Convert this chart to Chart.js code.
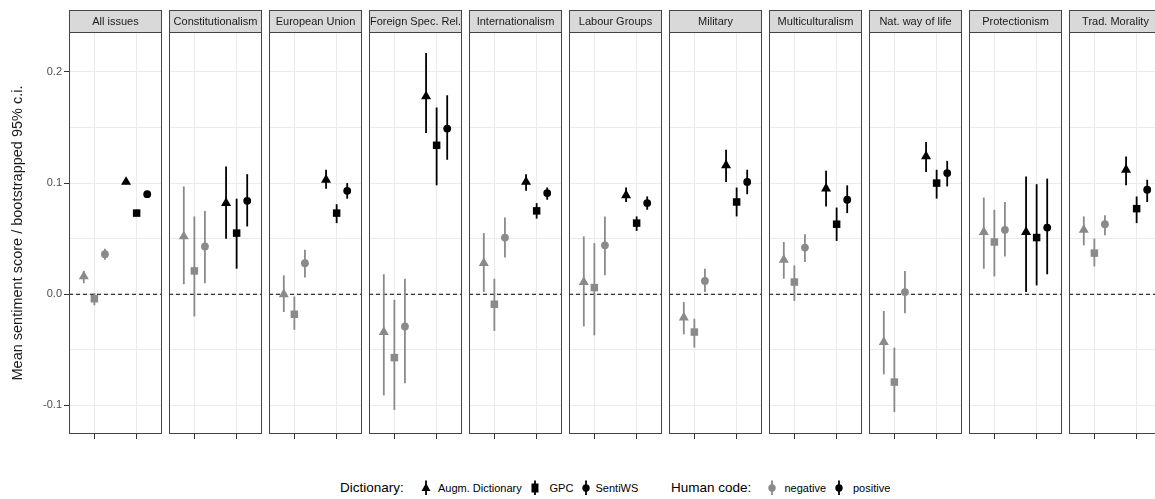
<!DOCTYPE html>
<html>
<head>
<meta charset="utf-8">
<script src="https://cdn.jsdelivr.net/npm/chart.js@4.4.1/dist/chart.umd.min.js"></script>
<style>
  html, body { margin: 0; padding: 0; background: #fff; width: 1155px; height: 499px; overflow: hidden; }
  #wrap { position: relative; width: 1155px; height: 499px; overflow: hidden; }
  #wrap canvas { position: absolute; top: 0; }
  .lg { position: absolute; white-space: nowrap; color: #000; font-family: "Liberation Sans", Arial, sans-serif; }
  .lg-title { font-size: 13.5px; line-height: 16px; top: 479.5px; }
  .lg-label { font-size: 11px; line-height: 13px; top: 481.5px; }
  .key { position: absolute; top: 480px; width: 12px; height: 16px; }
</style>
</head>
<body>
<div id="wrap">
  <span class="lg lg-title" style="left:340px">Dictionary:</span>
  <svg class="key" style="left:420.3px" viewBox="0 0 12 16"><line x1="6" y1="0.5" x2="6" y2="15" stroke="#000" stroke-width="1.8"/><polygon points="6,3 10.5,11 1.5,11" fill="#000"/></svg>
  <span class="lg lg-label" style="left:438px">Augm. Dictionary</span>
  <svg class="key" style="left:529.4px" viewBox="0 0 12 16"><line x1="6" y1="0.5" x2="6" y2="15" stroke="#000" stroke-width="1.8"/><rect x="2.5" y="3.5" width="7" height="9" fill="#000"/></svg>
  <span class="lg lg-label" style="left:549.5px">GPC</span>
  <svg class="key" style="left:580.3px" viewBox="0 0 12 16"><line x1="6" y1="0.5" x2="6" y2="15" stroke="#000" stroke-width="1.8"/><circle cx="6" cy="8" r="3.7" fill="#000"/></svg>
  <span class="lg lg-label" style="left:595.5px">SentiWS</span>
  <span class="lg lg-title" style="left:671px">Human code:</span>
  <svg class="key" style="left:765.5px" viewBox="0 0 12 16"><line x1="6" y1="0.5" x2="6" y2="15" stroke="#8a8a8a" stroke-width="1.8"/><circle cx="6" cy="8" r="3.7" fill="#8a8a8a"/></svg>
  <span class="lg lg-label" style="left:784.5px">negative</span>
  <svg class="key" style="left:833.4px" viewBox="0 0 12 16"><line x1="6" y1="0.5" x2="6" y2="15" stroke="#000" stroke-width="1.8"/><circle cx="6" cy="8" r="3.7" fill="#000"/></svg>
  <span class="lg lg-label" style="left:853px">positive</span>
</div>
<script>
// Faceted pointrange plot: sentiment by dictionary and human code, one canvas per issue.

const panelNames = ["All issues", "Constitutionalism", "European Union", "Foreign Spec. Rel.",
  "Internationalism", "Labour Groups", "Military", "Multiculturalism",
  "Nat. way of life", "Protectionism", "Trad. Morality"];
const dictionaries = ["Augm. Dictionary", "GPC", "SentiWS"];
const humanCodes   = ["negative", "positive"];

const yTicks  = [-0.1, -0.05, 0, 0.05, 0.1, 0.15, 0.2];
const yLabels = ["-0.1", "", "0.0", "", "0.1", "", "0.2"];

// human code: negative
const negAugm      = [0.016, 0.052, 0.000, -0.034, 0.028, 0.011, -0.021, 0.031, -0.043, 0.056, 0.058];
const negAugmLow   = [0.010, 0.009, -0.016, -0.091, 0.002, -0.029, -0.036, 0.014, -0.072, 0.023, 0.044];
const negAugmHigh  = [0.021, 0.097, 0.017, 0.018, 0.055, 0.052, -0.007, 0.047, -0.015, 0.087, 0.070];
const negGpc       = [-0.004, 0.021, -0.018, -0.057, -0.009, 0.006, -0.034, 0.011, -0.079, 0.047, 0.037];
const negGpcLow    = [-0.010, -0.020, -0.032, -0.104, -0.033, -0.037, -0.048, -0.006, -0.106, 0.016, 0.025];
const negGpcHigh   = [0.001, 0.070, -0.002, -0.005, 0.014, 0.046, -0.022, 0.026, -0.048, 0.076, 0.050];
const negSenti     = [0.036, 0.043, 0.028, -0.029, 0.051, 0.044, 0.012, 0.042, 0.002, 0.058, 0.063];
const negSentiLow  = [0.031, 0.010, 0.015, -0.080, 0.033, 0.017, 0.002, 0.029, -0.017, 0.034, 0.053];
const negSentiHigh = [0.041, 0.075, 0.040, 0.014, 0.069, 0.070, 0.023, 0.054, 0.021, 0.083, 0.071];

// human code: positive
const posAugm      = [0.101, 0.082, 0.103, 0.178, 0.101, 0.089, 0.116, 0.095, 0.124, 0.056, 0.112];
const posAugmLow   = [0.099, 0.050, 0.095, 0.145, 0.093, 0.083, 0.101, 0.079, 0.110, 0.002, 0.098];
const posAugmHigh  = [0.103, 0.115, 0.112, 0.217, 0.108, 0.096, 0.130, 0.111, 0.137, 0.106, 0.124];
const posGpc       = [0.073, 0.055, 0.073, 0.134, 0.075, 0.064, 0.083, 0.063, 0.100, 0.051, 0.077];
const posGpcLow    = [0.071, 0.023, 0.064, 0.098, 0.068, 0.057, 0.070, 0.048, 0.086, 0.008, 0.064];
const posGpcHigh   = [0.076, 0.086, 0.081, 0.168, 0.082, 0.070, 0.096, 0.078, 0.112, 0.099, 0.088];
const posSenti     = [0.090, 0.084, 0.093, 0.149, 0.091, 0.082, 0.101, 0.085, 0.109, 0.060, 0.094];
const posSentiLow  = [0.088, 0.061, 0.086, 0.121, 0.085, 0.076, 0.090, 0.073, 0.097, 0.018, 0.083];
const posSentiHigh = [0.093, 0.108, 0.100, 0.179, 0.096, 0.088, 0.112, 0.098, 0.120, 0.104, 0.103];

const series = [
  { code: 0, dict: 0, mean: negAugm,  low: negAugmLow,  high: negAugmHigh },
  { code: 0, dict: 1, mean: negGpc,   low: negGpcLow,   high: negGpcHigh },
  { code: 0, dict: 2, mean: negSenti, low: negSentiLow, high: negSentiHigh },
  { code: 1, dict: 0, mean: posAugm,  low: posAugmLow,  high: posAugmHigh },
  { code: 1, dict: 1, mean: posGpc,   low: posGpcLow,   high: posGpcHigh },
  { code: 1, dict: 2, mean: posSenti, low: posSentiLow, high: posSentiHigh },
];

const GREY       = "#8a8a8a";
const codeColors = [GREY, "#000000"];
const dictShapes = ["triangle", "rect", "circle"];
const dictRadius = [5.8, 5.3, 3.9];
const dodge      = [-0.25, 0, 0.25];
const FONT       = "'Liberation Sans', Arial, sans-serif";

Chart.defaults.font.family = FONT;

// grey strip on top + dark frame round the panel
const panelFrame = {
  id: "panelFrame",
  afterDraw(chart, args, opts) {
    const { ctx, chartArea: a } = chart;
    ctx.save();
    ctx.fillStyle = "#d9d9d9";
    ctx.fillRect(a.left, 10, a.right - a.left, a.top - 10);
    ctx.strokeStyle = "#444";
    ctx.lineWidth = 1;
    ctx.strokeRect(a.left + 0.5, 10.5, a.right - a.left - 1, a.top - 10);
    ctx.strokeRect(a.left + 0.5, a.top + 0.5, a.right - a.left - 1, a.bottom - a.top - 1);
    ctx.fillStyle = "#1a1a1a";
    ctx.font = "11px " + FONT;
    ctx.textAlign = "center";
    ctx.textBaseline = "middle";
    ctx.fillText(opts.text, (a.left + a.right) / 2, (10 + a.top) / 2 + 1);
    ctx.restore();
  },
};

function buildDatasets(p) {
  const points = [];
  const bars = [];
  series.forEach((s) => {
    const x = s.code + 1 + dodge[s.dict];
    points.push({
      label: humanCodes[s.code] + " / " + dictionaries[s.dict],
      data: [{ x, y: s.mean[p] }],
      pointStyle: dictShapes[s.dict],
      pointRadius: dictRadius[s.dict],
      backgroundColor: codeColors[s.code],
      pointBorderWidth: 0,
      borderWidth: 0,
    });
    bars.push({
      label: "ci",
      data: [{ x, y: s.low[p] }, { x, y: s.high[p] }],
      showLine: true,
      borderColor: codeColors[s.code],
      borderWidth: 1.8,
      pointRadius: 0,
    });
  });
  // dashed zero reference line, drawn first (last dataset)
  const zero = {
    label: "zero",
    data: [{ x: 0.4, y: 0 }, { x: 2.6, y: 0 }],
    showLine: true,
    borderColor: "#000",
    borderWidth: 1,
    borderDash: [4, 3],
    pointRadius: 0,
  };
  return [...points, ...bars, zero];
}

function buildConfig(p) {
  const first = p === 0;
  return {
    type: "scatter",
    data: { datasets: buildDatasets(p) },
    plugins: [panelFrame],
    options: {
      responsive: false,
      animation: false,
      events: [],
      devicePixelRatio: 1,
      layout: { autoPadding: false, padding: { left: first ? 0 : 1, right: 1, top: 32, bottom: 0 } },
      plugins: {
        legend: { display: false },
        tooltip: { enabled: false },
        panelFrame: { text: panelNames[p] },
      },
      scales: {
        x: {
          type: "linear",
          min: 0.4,
          max: 2.6,
          afterBuildTicks: (s) => { s.ticks = [{ value: 1 }, { value: 2 }]; },
          afterFit: (s) => { s.height = 6; s.paddingLeft = 0; s.paddingRight = 0; },
          ticks: { display: false },
          grid: { color: "#ebebeb", lineWidth: 1, drawTicks: true, tickLength: 5, tickColor: "#333" },
          border: { display: false },
        },
        y: {
          type: "linear",
          min: -0.1257,
          max: 0.2359,
          afterBuildTicks: (s) => { s.ticks = yTicks.map((v) => ({ value: v })); },
          afterFit: (s) => { s.width = first ? 69 : 0; s.paddingTop = 0; s.paddingBottom = 0; },
          ticks: {
            display: first,
            autoSkip: false,
            padding: 2,
            color: "#4d4d4d",
            font: { size: 11 },
            callback: (v, i) => yLabels[i],
          },
          grid: {
            color: "#ebebeb",
            lineWidth: 1,
            drawTicks: first,
            tickLength: 5,
            tickColor: (ctx) => (yLabels[ctx.index] ? "#333" : "rgba(0,0,0,0)"),
          },
          border: { display: false },
          title: {
            display: first,
            text: "Mean sentiment score / bootstrapped 95% c.i.",
            color: "#1a1a1a",
            font: { size: 14.5 },
            padding: { top: 9, bottom: 0 },
          },
        },
      },
    },
  };
}

const wrap = document.getElementById("wrap");
panelNames.forEach((name, p) => {
  const cv = document.createElement("canvas");
  const left = p === 0 ? 0 : Math.round(69 + 100 * p) - 1;
  const width = p === 0 ? 163 : 95;
  cv.width = width;
  cv.height = 440;
  cv.style.left = left + "px";
  cv.style.width = width + "px";
  cv.style.height = "440px";
  wrap.appendChild(cv);
  new Chart(cv, buildConfig(p));
});
</script>
</body>
</html>
